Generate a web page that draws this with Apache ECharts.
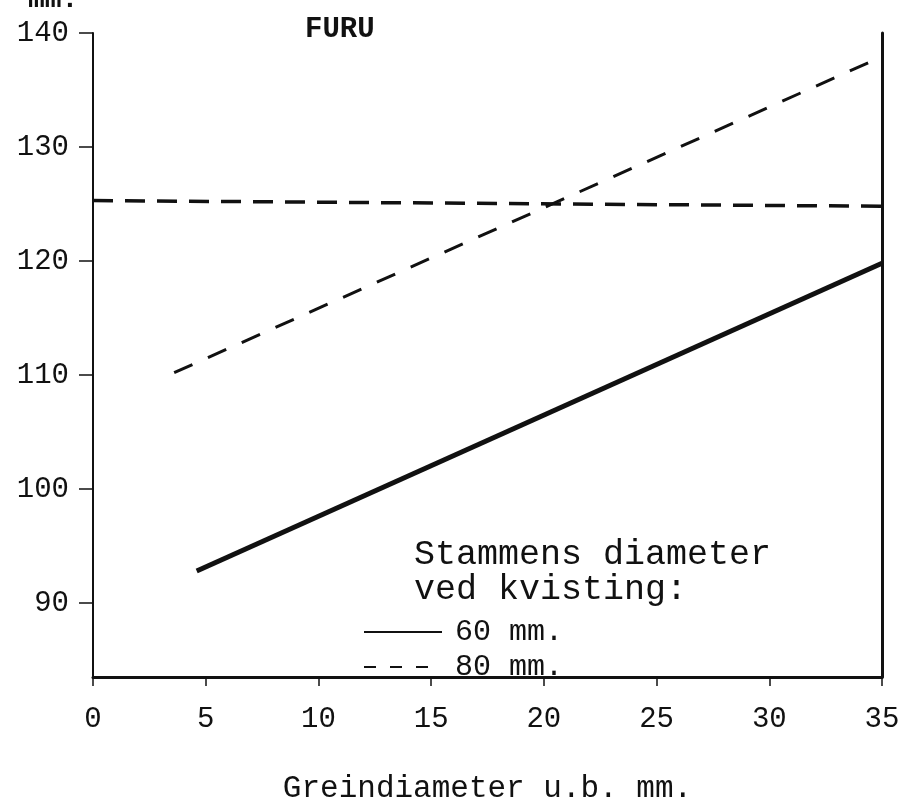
<!DOCTYPE html>
<html>
<head>
<meta charset="utf-8">
<script src="https://cdn.jsdelivr.net/npm/echarts@6/dist/echarts.min.js"></script>
<style>
  html, body { margin: 0; padding: 0; background: #fff; }
</style>
</head>
<body>
<div id="mainChart" style="width: 911px; height: 803px"></div>
<script>
// x-axis ticks (Greindiameter u.b. mm.)
var xTicks = [0, 5, 10, 15, 20, 25, 30, 35];
// y-axis ticks (mm.)
var yTicks = [90, 100, 110, 120, 130, 140];

// Stammens diameter ved kvisting
var series60 = [[4.6, 92.8], [35, 119.8]];
var series80 = [[3.6, 110.2], [20.6, 125.2], [34.4, 137.4]];
// horisontal stiplet linje
var refLine = [[0, 125.3], [35, 124.8]];

var font = "'Liberation Mono', 'DejaVu Sans Mono', monospace";
var chart = echarts.init(document.getElementById("mainChart"));

var option = {
  backgroundColor: "#fff",
  animation: false,
  grid: {
    left: 93,
    right: 29,
    top: 33,
    bottom: 126,
    outerBoundsMode: "none",
  },
  title: {
    text: "FURU",
    left: 300,
    top: 10,
    textStyle: {
      fontFamily: font,
      fontSize: 29,
      fontWeight: "bold",
      color: "#111",
    },
  },
  legend: {
    orient: "vertical",
    left: 358,
    top: 612,
    itemWidth: 78,
    itemHeight: 14,
    itemGap: 5,
    itemStyle: { opacity: 0 },
    data: [
      { name: "60 mm.", lineStyle: { width: 2, type: "solid" } },
      { name: "80 mm.", lineStyle: { width: 2, type: [12, 14] } },
    ],
    textStyle: {
      fontFamily: font,
      fontSize: 30,
      color: "#111",
      padding: [0, 0, 0, 8],
    },
  },
  graphic: [
    {
      type: "text",
      left: 414,
      top: 537,
      style: {
        text: "Stammens diameter\nved kvisting:",
        font: "35px " + font,
        lineHeight: 35,
        fill: "#111",
      },
    },
    {
      type: "text",
      left: 28,
      top: -14,
      style: {
        text: "mm.",
        font: "bold 28px " + font,
        fill: "#111",
      },
    },
  ],
  xAxis: {
    type: "value",
    min: 0,
    max: 35,
    interval: 5,
    name: "Greindiameter u.b. mm.",
    nameLocation: "middle",
    nameGap: 96,
    nameTextStyle: {
      fontFamily: font,
      fontSize: 31,
      color: "#111",
    },
    axisLine: { show: true, onZero: false, lineStyle: { color: "#111", width: 3 } },
    axisTick: { show: true, inside: false, length: 9, lineStyle: { color: "#111", width: 1.5 } },
    axisLabel: {
      margin: 28,
      fontFamily: font,
      fontSize: 29,
      color: "#111",
      customValues: xTicks,
    },
    splitLine: { show: false },
  },
  yAxis: [
    {
      type: "value",
      min: 83.5,
      max: 140,
      axisLine: { show: true, onZero: false, lineStyle: { color: "#111", width: 2 } },
      axisTick: { show: true, length: 14, customValues: yTicks, lineStyle: { color: "#111", width: 1.5 } },
      axisLabel: {
        margin: 24,
        fontFamily: font,
        fontSize: 29,
        color: "#111",
        customValues: yTicks,
      },
      splitLine: { show: false },
    },
    {
      type: "value",
      position: "right",
      min: 83.5,
      max: 140,
      axisLine: { show: true, onZero: false, lineStyle: { color: "#111", width: 3 } },
      axisTick: { show: false },
      axisLabel: { show: false },
      splitLine: { show: false },
    },
  ],
  series: [
    {
      name: "60 mm.",
      type: "line",
      data: series60,
      symbol: "none",
      lineStyle: { color: "#111", width: 5, type: "solid" },
      itemStyle: { color: "#111" },
    },
    {
      name: "80 mm.",
      type: "line",
      data: series80,
      symbol: "none",
      lineStyle: { color: "#111", width: 3, type: [20, 17] },
      itemStyle: { color: "#111" },
    },
    {
      name: "ref",
      type: "line",
      data: refLine,
      symbol: "none",
      lineStyle: { color: "#111", width: 3.5, type: [20, 12] },
      itemStyle: { color: "#111" },
    },
  ],
};
chart.setOption(option);
</script>
</body>
</html>
